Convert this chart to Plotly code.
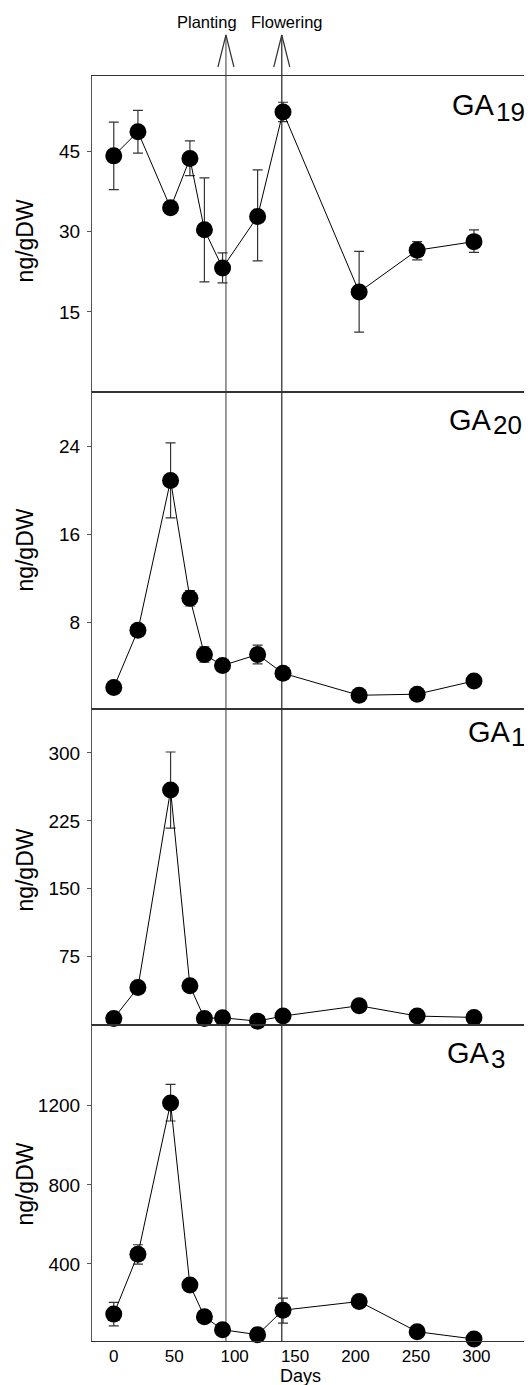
import plotly.graph_objects as go
from plotly.subplots import make_subplots

# ---- data ----
days = [0, 20, 47, 63, 75, 90, 119, 140, 203, 251, 298]

ga19 = [44.1, 48.6, 34.4, 43.6, 30.3, 23.2, 32.8, 52.3, 18.7, 26.5, 28.1]
ga19_err_plus = [6.3, 4.0, 0, 3.3, 9.7, 2.8, 8.7, 1.8, 7.6, 1.6, 2.2]
ga19_err_minus = [6.3, 4.0, 0, 3.2, 9.7, 2.8, 8.3, 1.8, 7.5, 1.8, 2.0]

ga20 = [2.1, 7.3, 20.9, 10.2, 5.1, 4.1, 5.1, 3.4, 1.4, 1.5, 2.7]
ga20_err_plus = [0, 0, 3.4, 0.7, 0.7, 0, 0.85, 0, 0, 0, 0]
ga20_err_minus = [0, 0, 3.4, 0.7, 0.7, 0, 0.85, 0, 0, 0, 0]

ga1 = [7, 41, 259, 43, 7, 7.7, 4, 9.6, 21, 9.6, 8.1]
ga1_err_plus = [0, 0, 42, 0, 0, 0, 0, 0, 0, 0, 0]
ga1_err_minus = [0, 0, 42, 0, 0, 0, 0, 0, 0, 0, 0]

ga3 = [146, 449, 1214, 293, 133, 67, 42, 166, 210, 57, 20]
ga3_err_plus = [59, 48, 94, 0, 0, 0, 0, 61, 0, 0, 0]
ga3_err_minus = [59, 50, 91, 0, 0, 0, 0, 66, 0, 0, 0]

panel_names = ["GA", "GA", "GA", "GA"]
panel_subs = ["19", "20", "1", "3"]
y_ranges = [[0, 59], [0.2, 28.9], [0, 349], [10, 1610]]
y_ticks = [[15, 30, 45], [8, 16, 24], [75, 150, 225, 300], [400, 800, 1200]]
x_ticks = [0, 50, 100, 150, 200, 250, 300]
x_range = [-18, 346]
planting_day = 92.8
flowering_day = 139.0
event_labels = ["Planting", "Flowering"]
y_title = "ng/gDW"
x_title = "Days"

# ---- geometry (page pixels; the page body has an 8px margin) ----
PAGE_W, PAGE_H = 532, 1385
OFF = 8
W, H = PAGE_W - OFF, PAGE_H - OFF
L, R, T, B = 92 - OFF, 0, 76 - OFF, 44
PW, PH = W - L - R, H - T - B


def xp(px):
    return (px - OFF - L) / PW


def yp(py):
    return (H - B - (py - OFF)) / PH


FONT = "Liberation Sans, Arial, Helvetica, sans-serif"

fig = make_subplots(rows=4, cols=1, shared_xaxes=True, vertical_spacing=0)

series = [
    (ga19, ga19_err_plus, ga19_err_minus),
    (ga20, ga20_err_plus, ga20_err_minus),
    (ga1, ga1_err_plus, ga1_err_minus),
    (ga3, ga3_err_plus, ga3_err_minus),
]

for i, (vals, ep, em) in enumerate(series):
    fig.add_trace(
        go.Scatter(
            x=days,
            y=vals,
            mode="lines+markers",
            line=dict(color="black", width=1),
            marker=dict(color="black", size=17),
            error_y=dict(type="data", symmetric=False, array=ep, arrayminus=em,
                         color="#333", thickness=1.2, width=5),
            showlegend=False,
            cliponaxis=False,
        ),
        row=i + 1, col=1,
    )
    fig.update_yaxes(
        range=y_ranges[i], tickvals=y_ticks[i], showgrid=False, zeroline=False,
        showline=True, linecolor="#555", linewidth=1.2,
        ticks="outside", ticklen=4, tickcolor="#555", tickwidth=1,
        tickfont=dict(family=FONT, size=19, color="black"),
        ticklabelstandoff=3,
        row=i + 1, col=1,
    )
    fig.update_xaxes(
        range=x_range, showgrid=False, zeroline=False,
        showline=True, mirror=True, linecolor="#333", linewidth=1,
        ticks="", tickvals=x_ticks,
        row=i + 1, col=1,
    )

fig.update_xaxes(showticklabels=True, tickfont=dict(family=FONT, size=17, color="black"),
                 ticklabelstandoff=0, row=4, col=1)

# event lines with open arrowheads
shapes = []
dx = 8 / (PW / (x_range[1] - x_range[0]))
for d, col in [(planting_day, "#666"), (flowering_day, "#333")]:
    shapes.append(dict(type="line", xref="x", yref="paper", x0=d, x1=d,
                       y0=0, y1=yp(35), line=dict(color=col, width=1.3), layer="below"))
    shapes.append(dict(type="path", xref="x", yref="paper",
                       path=f"M {d - dx},{yp(67)} L {d},{yp(35)} L {d + dx},{yp(67)}",
                       line=dict(color="#333", width=1.2)))
fig.update_layout(shapes=shapes)

ann = []
# event labels
ann.append(dict(text=event_labels[0], x=xp(207), y=yp(22), xref="paper", yref="paper",
                xanchor="center", yanchor="middle",
                showarrow=False, font=dict(family=FONT, size=16.5, color="black")))
ann.append(dict(text=event_labels[1], x=xp(286.5), y=yp(22), xref="paper", yref="paper",
                xanchor="center", yanchor="middle",
                showarrow=False, font=dict(family=FONT, size=16.5, color="black")))

# panel labels GA + subscript
ga_pos = [  # (GA left, GA center y, sub left, sub center y)
    (450, 105.5, 493.5, 112.2),
    (447, 420, 490.5, 425.5),
    (465.6, 731.7, 509, 737),
    (445, 1053, 488.5, 1058.5),
]
for (gx, gy, sx, sy), nm, sb in zip(ga_pos, panel_names, panel_subs):
    ann.append(dict(text=nm, x=xp(gx), y=yp(gy), xref="paper", yref="paper",
                    xanchor="left", yanchor="middle", showarrow=False,
                    font=dict(family=FONT, size=29, color="black")))
    ann.append(dict(text=sb, x=xp(sx), y=yp(sy), xref="paper", yref="paper",
                    xanchor="left", yanchor="middle", showarrow=False,
                    font=dict(family=FONT, size=26, color="black")))

# y titles
for cy in [240.8, 550, 870, 1184]:
    ann.append(dict(text=y_title, x=xp(24.6), y=yp(cy), xref="paper", yref="paper",
                    textangle=-90, showarrow=False, xanchor="center", yanchor="middle",
                    font=dict(family=FONT, size=23, color="black")))

# x title
ann.append(dict(text=x_title, x=xp(300), y=yp(1376), xref="paper", yref="paper",
                xanchor="center", yanchor="middle",
                showarrow=False, font=dict(family=FONT, size=18, color="black")))

fig.update_layout(
    annotations=ann,
    width=W, height=H,
    margin=dict(l=L, r=R, t=T, b=B, pad=0),
    plot_bgcolor="white", paper_bgcolor="white",
    showlegend=False,
)

fig.write_html("out.html")
